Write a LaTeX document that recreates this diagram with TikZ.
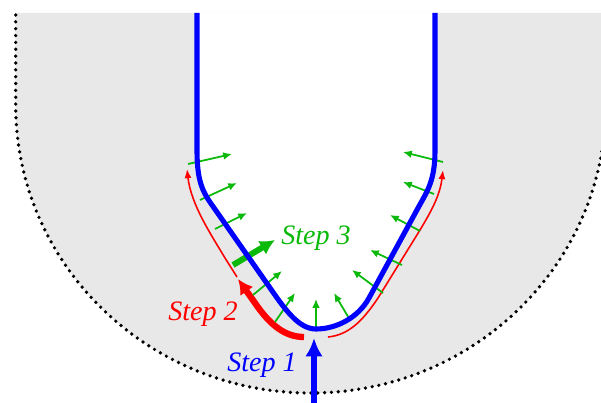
\documentclass[tikz,border=0pt]{standalone}
\usepackage{fontspec}
\setmainfont{Liberation Serif}
\definecolor{regiongray}{RGB}{232,232,232}
\definecolor{stepblue}{RGB}{0,0,255}
\definecolor{stepred}{RGB}{255,0,0}
\definecolor{stepgreen}{RGB}{10,185,10}
\usetikzlibrary{arrows.meta}
\tikzset{
	front/.style={draw=stepblue, line width=2.9pt},
	boundary/.style={draw=black, line width=2.1pt, line cap=round, dash pattern=on 0pt off 3.9pt},
	pusharrow/.style={-{Latex[length=10.5pt, width=10pt]}, draw=stepblue, line width=2.9pt},
	slidearrow/.style={-{Latex[length=8.5pt, width=9pt]}, draw=stepred, line width=3.6pt},
	thinslide/.style={-{Latex[length=5.2pt, width=4pt]}, draw=stepred, line width=0.9pt},
	normalarrow/.style={-{Latex[length=5pt, width=4.4pt]}, draw=stepgreen, line width=1pt},
	bignormal/.style={-{Latex[length=8.5pt, width=9pt]}, draw=stepgreen, line width=3.4pt},
	steplabel/.style={font=\fontsize{16}{19}\selectfont\itshape, inner sep=0pt},
}

\begin{document}
\begin{tikzpicture}[x=0.02cm, y=-0.02cm]
	\useasboundingbox (0,0) rectangle (601,402);
	\clip (0,0) rectangle (601,402);
	% region and its dotted border
	\fill[regiongray] (15.7,13) -- (15.7,105) arc[start angle=180, end angle=0, x radius=295, y radius=288] -- (606,13) -- cycle;
	\draw[boundary] (15.7,15) -- (15.7,105) arc[start angle=180, end angle=0, x radius=295, y radius=288];
	% inside of the front
	\fill[white] (197,13) -- (197,150) .. controls (197,180) and (202,191) .. (212,205) -- (268,285)
		.. controls (284,308) and (298,329) .. (316,329) .. controls (336,329) and (358,318) .. (369,298)
		-- (418,208) .. controls (428,190) and (435,180) .. (435,150) -- (435,13) -- cycle;
	% step 2
	\draw[slidearrow] (304,337) .. controls (285,337) and (270,325) .. (255,303) -- (238,279);
	\draw[thinslide] (237,277) -- (225,258) .. controls (212,236) and (191,205) .. (187,169);
	\draw[thinslide] (328,337) .. controls (348,335) and (362,322) .. (378,298) -- (420,230) .. controls (432,210) and (440,195) .. (443,170);
	% step 3
	\foreach \tx/\ty/\hx/\hy in {188/164/232/154, 200/200/237/183, 215/229/247/213, 253/295/282/271,
		275/322/295/293, 316/328/316/299, 350/320/334/293, 383/293/352/270,
		402/265/370/250, 420/231/390/215, 434/194/403/182, 443/162/403/152}
		\draw[normalarrow] (\tx,\ty) -- (\hx,\hy);
	\draw[bignormal] (233,265) -- (275,240);
	% the front
	\draw[front] (197,13) -- (197,150) .. controls (197,180) and (202,191) .. (212,205) -- (268,285)
		.. controls (284,308) and (298,329) .. (316,329) .. controls (336,329) and (358,318) .. (369,298)
		-- (418,208) .. controls (428,190) and (435,180) .. (435,150) -- (435,13);
	% step 1
	\draw[pusharrow] (314,405) -- (314,338);
	\node[steplabel, text=stepblue] (step1) at (262,365) {Step 1};
	\node[steplabel, text=stepred] (step2) at (203,314) {Step 2};
	\node[steplabel, text=stepgreen] (step3) at (316,238) {Step 3};
\end{tikzpicture}
\end{document}
